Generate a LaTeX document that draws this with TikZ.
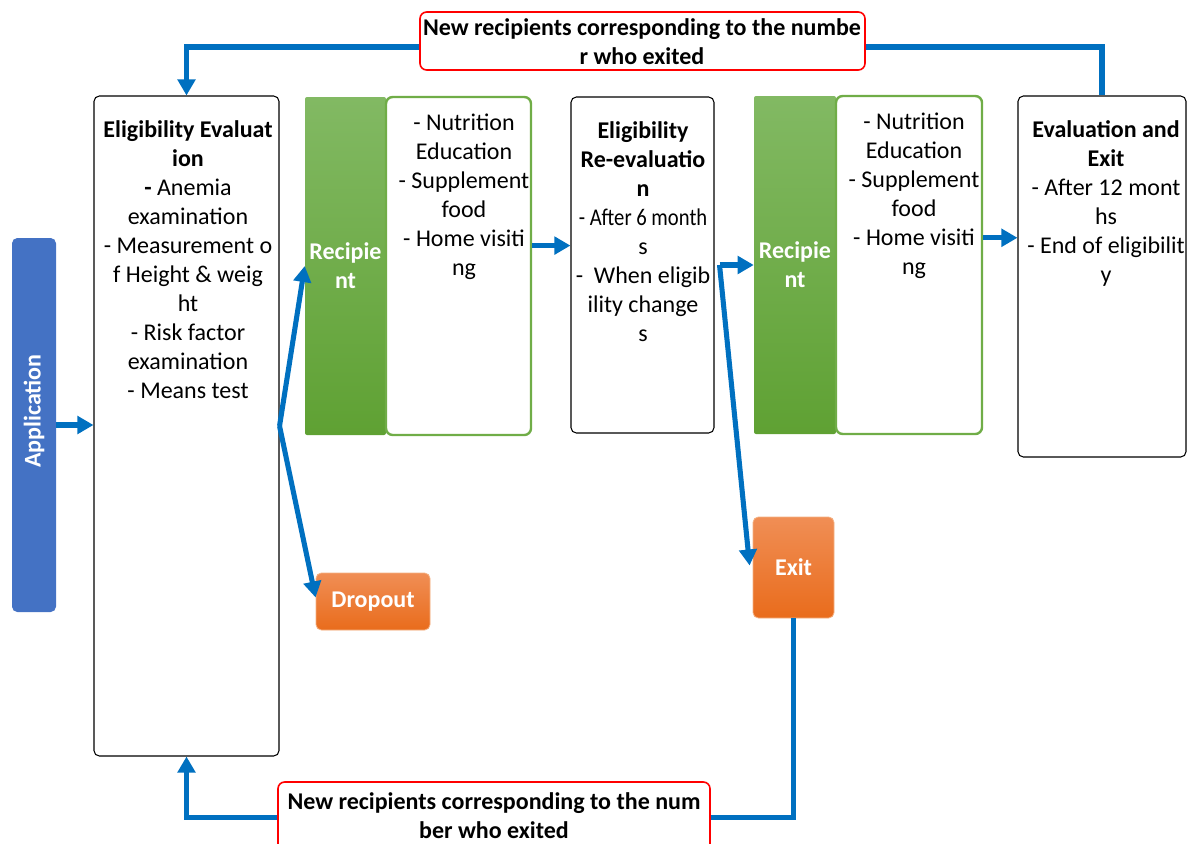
\documentclass[tikz,border=0pt]{standalone}
\usepackage{fontspec}
\setmainfont{Carlito}
\usetikzlibrary{arrows.meta,calc,fit}

\definecolor{flowblue}{HTML}{0070C0}
\definecolor{appblue}{HTML}{4472C4}
\definecolor{greenedge}{HTML}{70AD47}
\definecolor{greentop}{HTML}{82B963}
\definecolor{greenbot}{HTML}{5FA133}
\definecolor{orangetop}{HTML}{F08E55}
\definecolor{orangebot}{HTML}{E96C1C}
\definecolor{orangeedge}{HTML}{F4B183}
\definecolor{labelred}{HTML}{FF0000}

\newcommand{\bodysize}{\fontsize{18}{21.75}\selectfont}

\tikzset{
  txt/.style={font=\bodysize, align=center, inner sep=0pt},
  stagebox/.style={draw=black, line width=0.8pt, rounded corners=4pt, fill=white, inner sep=0pt},
  servicebox/.style={draw=greenedge, line width=1.8pt, rounded corners=5pt, fill=white, inner sep=0pt},
  recipbox/.style={top color=greentop, bottom color=greenbot, rounded corners=1.5pt,
    text=white, font=\bfseries\bodysize, align=center, inner sep=0pt},
  outbox/.style={top color=orangetop, bottom color=orangebot, draw=orangeedge, line width=0.6pt,
    rounded corners=4pt, text=white, font=\bfseries\bodysize, align=center, inner sep=0pt},
  appbox/.style={fill=appblue, rounded corners=4pt, text=white,
    font=\bfseries\fontsize{18}{21}\selectfont, inner sep=0pt},
  notebox/.style={draw=labelred, line width=1.2pt, rounded corners=5pt, fill=white, inner sep=0pt},
  flow/.style={draw=flowblue, line width=3.8pt, -{Triangle[length=12pt,width=13pt]}},
  flowline/.style={draw=flowblue, line width=3.8pt},
}

\begin{document}
\begin{tikzpicture}[x=0.75pt,y=-0.75pt]
\useasboundingbox (0,0) rectangle (1187,843);

% application column
\node[appbox, rotate=90, minimum width=280.5pt, minimum height=33pt] (app) at (34,425) {\hspace*{21pt}Application};

% first evaluation
\node[stagebox, fit={(94,96) (279,756)}] (eval) {};
\node[txt, anchor=north] (evaltext) at (188,120) {\textbf{Eligibility Evaluat}\\\textbf{ion}\\\textbf{-} Anemia\\examination\\- Measurement o\\f Height \& weig\\ht\\- Risk factor\\examination\\- Means test};

% first service period
\node[recipbox, minimum width=60.75pt, minimum height=253.5pt] (recip1) at (345.5,266) {Recipie\\nt};
\node[servicebox, fit={(386,97) (531,435)}] (nut1) {};
\node[txt, anchor=north] (nut1text) at (464,114) {- Nutrition\\Education\\- Supplement\\food\\- Home visiti\\ng};

% dropout
\node[outbox, minimum width=85.5pt, minimum height=42.75pt] (drop) at (373,601.5) {Dropout};

% re-evaluation
\node[stagebox, fit={(571,97) (714,433)}] (reeval) {};
\node[txt, anchor=north] (reevaltext) at (643,121) {\textbf{Eligibility}\\\textbf{Re-evaluatio}\\\textbf{n}\\\scalebox{0.86}[1]{- After 6 month}\\s\\-\ \ When eligib\\ility change\\s};

% second service period
\node[recipbox, minimum width=61.5pt, minimum height=253.5pt] (recip2) at (795,265) {Recipie\\nt};
\node[servicebox, fit={(836,96) (982,434)}] (nut2) {};
\node[txt, anchor=north] (nut2text) at (914,113) {- Nutrition\\Education\\- Supplement\\food\\- Home visiti\\ng};

% exit
\node[outbox, minimum width=60.75pt, minimum height=75.75pt] (exit) at (793.5,567.5) {Exit};

% final evaluation
\node[stagebox, fit={(1018,96) (1186,457)}] (evalexit) {};
\node[txt, anchor=north] (evalexittext) at (1106,120) {\textbf{Evaluation and}\\\textbf{Exit}\\- After 12 mont\\hs\\- End of eligibilit\\y};

% replacement notes
\node[notebox, fit={(420,12) (865,70)}] (topnote) {};
\node[txt, font=\bfseries\bodysize] (topnotetext) at (642,42) {New recipients corresponding to the numbe\\r who exited};
\node[notebox, fit={(278,782) (710,852)}] (botnote) {};
\node[txt, font=\bfseries\bodysize, anchor=north] (botnotetext) at (494,792) {New recipients corresponding to the num\\ber who exited};

% connectors
\draw[flow] (app.south) -- (app.south -| eval.west);
\draw[flow] (eval.east) -- (recip1.west);
\draw[flow] (eval.east) -- ($(drop.west)+(0,-4)$);
\coordinate (n1out) at ($(nut1.north east)!0.44!(nut1.south east)$);
\draw[flow] (n1out) -- (n1out -| reeval.west);
\coordinate (reout) at ($(reeval.east |- recip2.west)+(5,0)$);
\draw[flow] (reout) -- (reout -| recip2.west);
\draw[flow] (reout) -- ($(exit.west)+(-3,-2)$);
\coordinate (n2out) at ($(nut2.north east)!0.42!(nut2.south east)$);
\draw[flow] (n2out) -- (n2out -| evalexit.west);
\draw[flowline] (evalexit.north) |- ([yshift=-4.5pt]topnote.east);
\draw[flow] ([yshift=-4.5pt]topnote.west) -| (eval.north);
\draw[flowline] (exit.south) |- ([yshift=-0.5pt]botnote.east);
\draw[flow] ([yshift=-0.5pt]botnote.west) -| (eval.south);
\end{tikzpicture}
\end{document}
